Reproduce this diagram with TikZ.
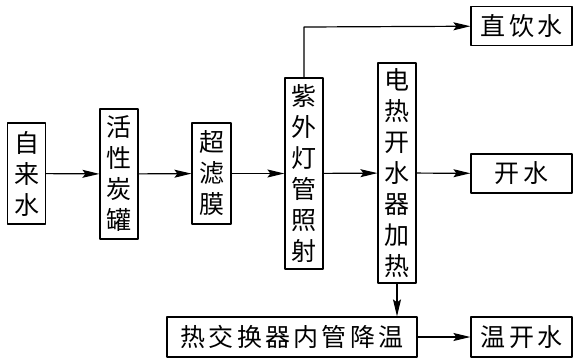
\documentclass[tikz,border=0pt]{standalone}
\usepackage{fontspec}
\newfontfamily\cjk{Noto Sans CJK SC}
\usetikzlibrary{arrows.meta}
\begin{document}
\begin{tikzpicture}[x=1pt, y=-1pt, line join=round, line width=1.2pt, >={Stealth[length=17pt,width=8pt,inset=3pt]},
	font=\cjk\fontsize{25}{31}\selectfont,
	box/.style={draw, inner sep=0pt, align=center, minimum width=#1},
	box/.default=38pt,
	wide/.style={font=\cjk\fontsize{25}{31}\selectfont\addfontfeature{LetterSpace=13}}]
			\useasboundingbox (0,0) rectangle (578,362);
			\node[box, minimum height=101pt] (water) at (26.5,173.5) {自\\来\\水};
			\node[box, minimum height=130pt] (carbon) at (119,174) {活\\性\\炭\\罐};
			\node[box=39pt, minimum height=101pt] (uf) at (211.5,173.5) {超\\滤\\膜};
			\node[box, minimum height=191pt] (uv) at (304,173.5) {紫\\外\\灯\\管\\照\\射};
			\node[box, minimum height=220pt] (heater) at (397,173) {电\\热\\开\\水\\器\\加\\热};
			\node[box=101pt, minimum height=39pt, wide] (direct) at (521.5,26) {直饮水};
			\node[box=101pt, minimum height=39pt, wide] (boil) at (521.5,173.5) {开水};
			\node[box=250pt, minimum height=40pt, wide] (hex) at (292,337) {热交换器内管降温};
			\node[box=101pt, minimum height=40pt, wide] (warm) at (521.5,337) {温开水};
			\coordinate (bend) at (304,27);
			\draw[->] (water) -- (carbon);
			\draw[->] (carbon) -- (uf);
			\draw[->] (uf) -- (uv);
			\draw[->] (uv) -- (heater);
			\draw[->] (heater) -- (boil);
			\draw[->] (uv.north) -- (bend) -- (direct);
			\draw[->] (heater) -- (hex.north -| heater);
			\draw[->] (hex) -- (warm);
		\end{tikzpicture}
\end{document}
